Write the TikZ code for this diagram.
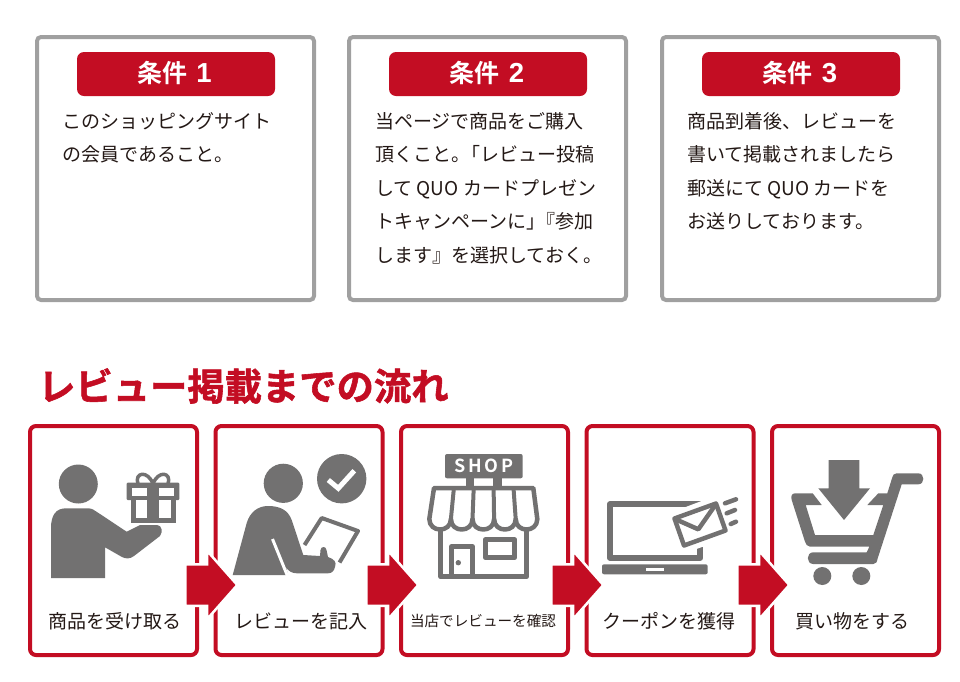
\documentclass[tikz,border=0pt]{standalone}
\usepackage{fontspec}
\setmainfont{Noto Sans CJK JP}[BoldFont={Noto Sans CJK JP Bold}]
\newfontfamily\digitfont{Liberation Sans}[Scale=1.1]
\usetikzlibrary{shapes.arrows}
\definecolor{flowred}{HTML}{C30D23}
\definecolor{boxgray}{HTML}{A0A0A0}
\definecolor{icongray}{HTML}{727171}
\definecolor{inkblack}{HTML}{231815}
\tikzset{
  condbox/.style={draw=boxgray,line width=4pt,rounded corners=4pt,minimum width=277pt,minimum height=263pt,inner sep=0pt},
  condtitle/.style={fill=flowred,rounded corners=7pt,minimum width=198pt,minimum height=44pt,inner sep=0pt,text=white,font=\fontsize{25}{25}\selectfont\bfseries},
  condtext/.style={anchor=north west,align=left,inner sep=0pt,text=inkblack,font=\fontsize{19}{33.5}\selectfont},
  stepbox/.style={draw=flowred,line width=4pt,rounded corners=6pt,minimum width=167pt,minimum height=229pt,inner sep=0pt},
  steplabel/.style={inner sep=0pt,text=inkblack,font=\fontsize{19}{19}\selectfont},
  steparrow/.style={single arrow,anchor=tip,fill=flowred,draw=white,line width=2.5pt,inner xsep=0pt,inner ysep=19.5pt,minimum height=52pt,single arrow head extend=13.5pt,single arrow tip angle=97},
  iconfill/.style={fill=icongray,draw=none},
  iconline/.style={draw=icongray,line join=round},
}
\begin{document}
\begin{tikzpicture}[x=1pt,y=-1pt]
\useasboundingbox (0,0) rectangle (960,681);
% conditions
\node[condbox] (cond1) at (175.5,168.5) {};
\node[condbox] (cond2) at (487.5,168.5) {};
\node[condbox] (cond3) at (800.5,168.5) {};
\node[condtitle] (title1) at (176,74) {};
\node[condtitle] (title2) at (488,74) {};
\node[condtitle] (title3) at (801,74) {};
\node[condtitle,fill=none] (titletext1) at (174.5,73) {条件\hspace{9pt}{\digitfont 1}};
\node[condtitle,fill=none] (titletext2) at (487,73) {条件\hspace{9pt}{\digitfont 2}};
\node[condtitle,fill=none] (titletext3) at (800,73) {条件\hspace{9pt}{\digitfont 3}};
\node[condtext] (text1) at (62,112) {このショッピングサイト\\の会員であること。};
\node[condtext] (text2) at (375,112) {当ページで商品をご購入\\頂くこと。\hspace{-9pt}「レビュー投稿\\して QUO カードプレゼン\\トキャンペーンに」\hspace{-9pt}『参加\\します』を選択しておく。};
\node[condtext] (text3) at (687,112) {商品到着後、レビューを\\書いて掲載されましたら\\郵送にて QUO カードを\\お送りしております。};
% flow
\node[anchor=west,inner sep=0pt,text=flowred,font=\fontsize{37.3}{37}\selectfont\bfseries\addfontfeature{FakeBold=1.5}] (flowtitle) at (38,386) {レビュー掲載までの流れ};
\node[stepbox] (step1) at (113.5,540.5) {};
\node[stepbox] (step2) at (299,540.5) {};
\node[stepbox] (step3) at (484.5,540.5) {};
\node[stepbox] (step4) at (670,540.5) {};
\node[stepbox] (step5) at (855.5,540.5) {};
\node[steplabel] (label1) at (115,621) {商品を受け取る};
\node[steplabel] (label2) at (301,621) {レビューを記入};
\node[steplabel,font=\fontsize{14.6}{14.6}\selectfont] (label3) at (483,621) {当店でレビューを確認};
\node[steplabel] (label4) at (669,621) {クーポンを獲得};
\node[steplabel] (label5) at (852,621) {買い物をする};
\node[steparrow] (arrow1) at (239,585) {};
\node[steparrow] (arrow2) at (420,585) {};
\node[steparrow] (arrow3) at (605,585) {};
\node[steparrow] (arrow4) at (791,585) {};
% person with gift
\fill[icongray] (78.3,484) circle(19.5);
\path[iconfill] (51,578)--(51,528) .. controls (51,515) and (56,508.3) .. (66,508.3)--(88,508.3) .. controls (92,508.3) and (94,510) .. (97,512)--(126.7,531.7)--(140,525)--(157,525) .. controls (162,525) and (163,532) .. (160,536)--(134,556) .. controls (130,559) and (126,559) .. (122,557)--(105,547.3)--(105,578)--cycle;
\draw[iconline,line width=3.5pt] (153,484) .. controls (148,470) and (134,472) .. (138,484);
\draw[iconline,line width=3.5pt] (153,484) .. controls (158,470) and (172,472) .. (168,484);
\path[iconfill,rounded corners=1pt] (126.7,482.7) rectangle (179.3,500);
\path[iconfill] (130.7,498) rectangle (176,523.3);
\fill[white] (132.3,488.3) rectangle (146.7,496);
\fill[white] (159.3,488.3) rectangle (174,496);
\fill[white] (136,500) rectangle (146.7,518.3);
\fill[white] (159.3,500) rectangle (170.7,518.3);
% person writing
\fill[icongray] (283.3,483.3) circle(19.6);
\fill[icongray] (341.7,478.7) circle(24.7);
\draw[white,line width=5pt] (328.3,480)--(338.3,488.3)--(354.3,470.7);
\draw[iconline,line width=4pt] (304.5,545)--(321.7,518)--(358,531)--(339.5,562.5);
\path[iconfill] (232.7,575)--(246.7,523) .. controls (250,512) and (258,506) .. (268,506) .. controls (280,506) and (288,510) .. (291.7,520)--(303.3,555)--(320,556)--(320.5,550) .. controls (321,546) and (326,546) .. (326.5,550)--(328,557) .. controls (334,559) and (337,562) .. (335,567) .. controls (334,571) and (332,573.3) .. (328,573.3)--(297,573.3) .. controls (292,573.3) and (288,571) .. (286,567)--(288,575)--cycle;
\draw[white,line width=3pt] (272.5,539)--(287.5,576);
% shop
\path[iconfill,rounded corners=2pt] (445,454) rectangle (522.7,478.3);
\node[inner sep=0pt,text=white,font=\fontsize{18}{18}\selectfont\bfseries] (shoptext) at (484,466) {S\hspace{3pt}H\hspace{3pt}O\hspace{3pt}P};
\path[iconfill] (466,478) rectangle (474,487);
\path[iconfill] (493.3,478) rectangle (501.7,487);
\draw[iconline,line width=4.5pt] (434,488)--(533.3,488)--(537.3,519) .. controls (537.3,533) and (515.7,533) .. (515.7,519) .. controls (515.7,533) and (494.1,533) .. (494.1,519) .. controls (494.1,533) and (472.5,533) .. (472.5,519) .. controls (472.5,533) and (450.9,533) .. (450.9,519) .. controls (450.9,533) and (429.3,533) .. (429.3,519)--cycle;
\draw[iconline,line width=4pt] (453.9,488)--(450.9,519) (473.7,488)--(472.5,519) (493.6,488)--(494.1,519) (513.5,488)--(515.7,519);
\draw[iconline,line width=5pt] (440.7,530)--(440.7,576.7)--(526.7,576.7)--(526.7,530);
\draw[iconline,line width=5pt] (451.5,576.7)--(451.5,546.7)--(472.5,546.7)--(472.5,576.7);
\fill[icongray] (458.3,562.7) circle(2.7);
\draw[iconline,line width=5pt] (485.2,539.8) rectangle (514.8,557.5);
% laptop with mail
\draw[iconline,line width=6.3pt] (610,504.2) rectangle (700.3,557.7);
\path[iconfill,rounded corners=2pt] (602,564.3) rectangle (707.7,574.3);
\fill[white] (646,568.3) rectangle (664,570.7);
\filldraw[draw=white,fill=white,line width=12pt,line join=round] (672.7,518.3)--(716.7,501.7)--(727.3,531.7)--(683.3,547.3)--cycle;
\draw[iconline,line width=4.5pt] (674.5,518.5)--(716,503.5)--(725.5,530.5)--(684,545.5)--cycle;
\draw[iconline,line width=4.5pt] (675,519)--(698.3,529.3)--(716,504);
\draw[iconline,line width=4.5pt,line cap=round] (725,503.3)--(736,499.3);
\draw[iconline,line width=4.5pt,line cap=round] (726.7,513.3)--(735,510);
\draw[iconline,line width=4.5pt,line cap=round] (730.7,524)--(736,521.7);
% cart
\path[iconfill] (828.7,460)--(859.3,460)--(859.3,488.3)--(870,488.3)--(844,520)--(818.3,488.3)--(828.7,488.3)--cycle;
\path[iconfill] (795,493.3)--(812.7,493.3)--(821.7,505)--(805.7,505)--(815,535)--(873.3,535)--(883.3,505)--(867.3,505)--(878.3,493.3)--(887.3,493.3)--(892.3,477.3) .. controls (893,475) and (894,473.3) .. (896.7,473.3)--(918.3,473.3) .. controls (925,473.3) and (925,484.3) .. (918.3,484.3)--(901.7,484.3)--(877.7,558.3) .. controls (877,562) and (876,564) .. (873.3,564)--(813.3,564) .. controls (806,564) and (806,552.3) .. (813.3,552.3)--(866.7,552.3)--(869.3,546.7)--(810,546.7) .. controls (807,546.7) and (806,544) .. (805,541.7)--(791.7,500) .. controls (790.5,496) and (792,493.3) .. (795,493.3)--cycle;
\fill[icongray] (822.3,576) circle(9);
\fill[icongray] (861.3,576) circle(9);
\end{tikzpicture}
\end{document}
